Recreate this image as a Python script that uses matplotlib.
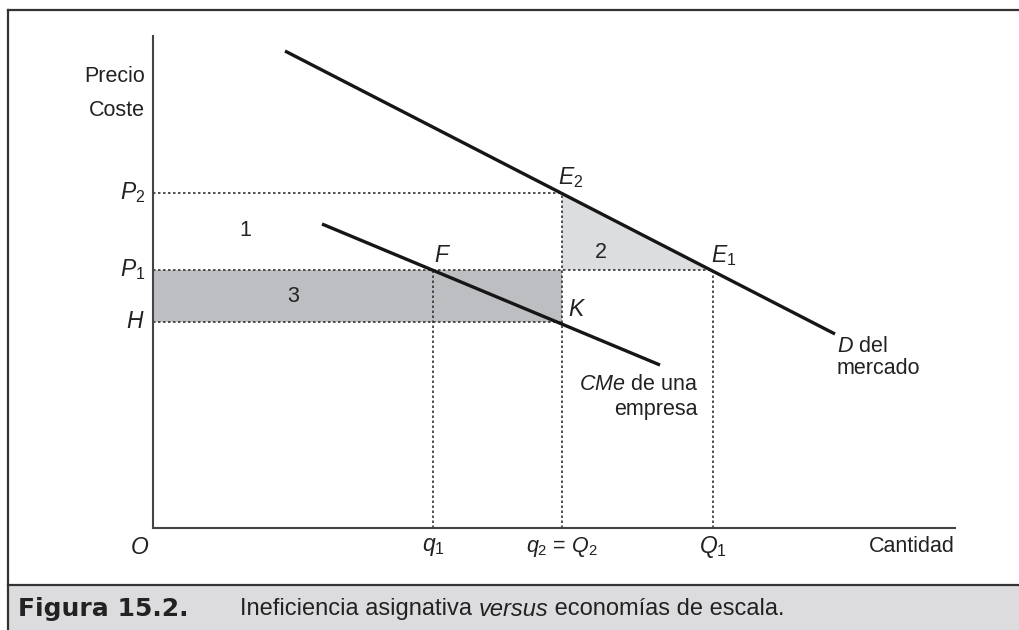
import matplotlib
matplotlib.use("Agg")
import matplotlib.pyplot as plt
from matplotlib.patches import Rectangle, Polygon
from matplotlib.lines import Line2D

plt.rcParams['font.family'] = ['Liberation Sans', 'DejaVu Sans']
plt.rcParams['mathtext.fontset'] = 'custom'
plt.rcParams['mathtext.it'] = 'Liberation Sans:italic'
plt.rcParams['mathtext.rm'] = 'Liberation Sans'

# ---- data (abstract units) ----
q1, q2, Q1 = 280, 409, 560
P2, P1, H = 335, 258, 206
demand_x = [132, 682]
demand_y = [477, 194]
cme_x = [169, 507]
cme_y = [304, 163]
xmax, ymax = 802, 492

W, Hpx = 1019, 630
fig = plt.figure(figsize=(W / 100, Hpx / 100), dpi=100)
fig.patch.set_facecolor('white')

# frame and caption bar
cap_top = 585
fig.patches.append(Rectangle((8 / W, 0), 1 - 8 / W, (Hpx - cap_top) / Hpx,
                             transform=fig.transFigure, facecolor='#dcdcde',
                             edgecolor='none', zorder=0))
fig.lines.append(Line2D([8 / W, 1], [1 - 10 / Hpx, 1 - 10 / Hpx], transform=fig.transFigure,
                        color='#333333', lw=1.6))
fig.lines.append(Line2D([8 / W, 8 / W], [0, 1 - 10 / Hpx], transform=fig.transFigure,
                        color='#333333', lw=1.6))
fig.lines.append(Line2D([8 / W, 1], [(Hpx - cap_top) / Hpx] * 2, transform=fig.transFigure,
                        color='#333333', lw=1.6))

ax = fig.add_axes([153 / W, (Hpx - 528) / Hpx, xmax / W, ymax / Hpx])
ax.set_xlim(0, xmax)
ax.set_ylim(0, ymax)
ax.patch.set_alpha(0)
for s in ['top', 'right']:
    ax.spines[s].set_visible(False)
for s in ['left', 'bottom']:
    ax.spines[s].set_color('#444444')
    ax.spines[s].set_linewidth(1.5)
ax.set_xticks([])
ax.set_yticks([])

# shaded areas
ax.add_patch(Rectangle((0, H), q2, P1 - H, facecolor='#bdbec1', edgecolor='none', zorder=1))
ax.add_patch(Polygon([[q2, P2], [q2, P1], [Q1, P1]], closed=True,
                     facecolor='#dcdddf', edgecolor='none', zorder=1))

# dotted guides
dk = dict(color='#333333', lw=1.2, ls=(0, (1.5, 1.5)), zorder=2)
ax.plot([0, q2], [P2, P2], **dk)
ax.plot([0, Q1], [P1, P1], **dk)
ax.plot([0, q2], [H, H], **dk)
ax.plot([q2, q2], [0, P2], **dk)
ax.plot([q1, q1], [0, P1], **dk)
ax.plot([Q1, Q1], [0, P1], **dk)

# curves
ax.plot(demand_x, demand_y, color='#161616', lw=2.4, solid_capstyle='butt', zorder=3)
ax.plot(cme_x, cme_y, color='#161616', lw=2.4, solid_capstyle='butt', zorder=3)

fs = 15.5
fp = 16.5
tc = '#222222'
# y axis labels
ax.text(-8, 451, 'Precio', ha='right', va='center', fontsize=fs, color=tc)
ax.text(-8, 418, 'Coste', ha='right', va='center', fontsize=fs, color=tc)
ax.text(-8, P2, r'$P_{\mathrm{2}}$', ha='right', va='center', fontsize=fp, color=tc)
ax.text(-8, P1, r'$P_{\mathrm{1}}$', ha='right', va='center', fontsize=fp, color=tc)
ax.text(-8, H, r'$H$', ha='right', va='center', fontsize=fp, color=tc)

# region numbers
ax.text(92, 298, '1', ha='center', va='center', fontsize=fs, color=tc)
ax.text(448, 276, '2', ha='center', va='center', fontsize=fs, color=tc)
ax.text(140, 231, '3', ha='center', va='center', fontsize=fs, color=tc)

# points
ax.text(q1 + 1, P1 + 14, r'$F$', ha='left', va='center', fontsize=fp, color=tc)
ax.text(q2 - 4, P2 + 15, r'$E_{\mathrm{2}}$', ha='left', va='center', fontsize=fp, color=tc)
ax.text(Q1 - 2, P1 + 14, r'$E_{\mathrm{1}}$', ha='left', va='center', fontsize=fp, color=tc)
ax.text(q2 + 6, H + 12, r'$K$', ha='left', va='center', fontsize=fp, color=tc)

# curve labels
ax.text(545, 144, r'$CMe$ de una', ha='right', va='center', fontsize=fs, color=tc)
ax.text(545, 119, 'empresa', ha='right', va='center', fontsize=fs, color=tc)
ax.text(684, 182, r'$D$ del', ha='left', va='center', fontsize=fs, color=tc)
ax.text(684, 159, 'mercado', ha='left', va='center', fontsize=fs, color=tc)

# x axis labels
ax.text(-13, -19, r'$O$', ha='center', va='center', fontsize=fp, color=tc)
ax.text(q1, -19, r'$q_{\mathrm{1}}$', ha='center', va='center', fontsize=fp, color=tc)
ax.text(q2, -19, r'$q_{\mathrm{2}}$ = $Q_{\mathrm{2}}$', ha='center', va='center', fontsize=fp - 1, color=tc)
ax.text(Q1, -19, r'$Q_{\mathrm{1}}$', ha='center', va='center', fontsize=fp, color=tc)
ax.text(xmax, -19, 'Cantidad', ha='right', va='center', fontsize=fs, color=tc)

# caption
cy = 1 - 609 / Hpx
t1 = fig.text(18 / W, cy, 'Figura 15.2.', fontsize=18, fontweight='bold', color='#222222',
              family='DejaVu Sans', ha='left', va='center')
t2 = fig.text(240 / W, cy, 'Ineficiencia asignativa ', fontsize=17, color='#222222',
              ha='left', va='center')
fig.canvas.draw()
r = fig.canvas.get_renderer()
bb = t2.get_window_extent(r)
t3 = fig.text(bb.x1 / W, cy, 'versus', fontsize=17, style='italic', color='#222222',
              ha='left', va='center')
bb3 = t3.get_window_extent(r)
fig.text(bb3.x1 / W, cy, ' economías de escala.', fontsize=17, color='#222222',
         ha='left', va='center')

fig.savefig('out.png', dpi=100)
